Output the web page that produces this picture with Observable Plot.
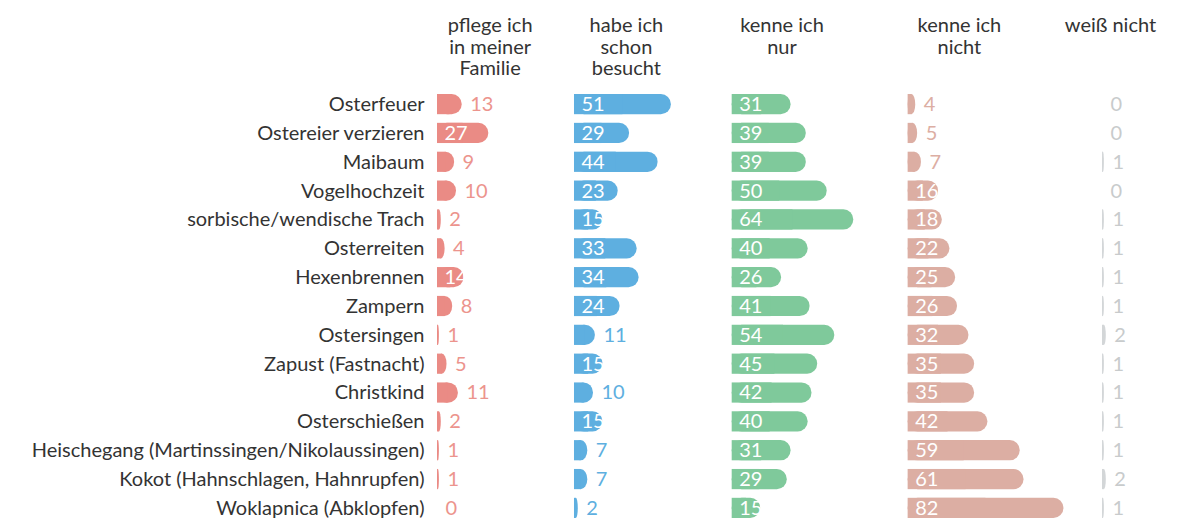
<!DOCTYPE html>
<html><head><meta charset="utf-8">
<script src="https://cdn.jsdelivr.net/npm/d3@7"></script>
<script src="https://cdn.jsdelivr.net/npm/@observablehq/plot@0.6"></script>
<style>
html,body{margin:0;padding:0;background:#fff;}
#chart{font-family:Lato,sans-serif;}
</style>
</head><body><div id="chart"></div>
<script>
// ---- data ----
const categories = [
  "Osterfeuer",
  "Ostereier verzieren",
  "Maibaum",
  "Vogelhochzeit",
  "sorbische/wendische Trach",
  "Osterreiten",
  "Hexenbrennen",
  "Zampern",
  "Ostersingen",
  "Zapust (Fastnacht)",
  "Christkind",
  "Osterschießen",
  "Heischegang (Martinssingen/Nikolaussingen)",
  "Kokot (Hahnschlagen, Hahnrupfen)",
  "Woklapnica (Abklopfen)"
];
const pflegeFamilie = [13, 27, 9, 10, 2, 4, 14, 8, 1, 5, 11, 2, 1, 1, 0];
const schonBesucht  = [51, 29, 44, 23, 15, 33, 34, 24, 11, 15, 10, 15, 7, 7, 2];
const kenneNur      = [31, 39, 39, 50, 64, 40, 26, 41, 54, 45, 42, 40, 31, 29, 15];
const kenneNicht    = [4, 5, 7, 16, 18, 22, 25, 26, 32, 35, 35, 42, 59, 61, 82];
const weissNicht    = [0, 0, 1, 0, 1, 1, 1, 1, 2, 1, 1, 1, 1, 2, 1];
const headers = [
  "pflege ich\nin meiner\nFamilie",
  "habe ich\nschon\nbesucht",
  "kenne ich\nnur",
  "kenne ich\nnicht",
  "weiß nicht"
];

// ---- layout & style ----
const W = 1189, H = 520;
const ML = 437, MR = 0, MT = 94, MB = 2;
const PX_PER_UNIT = 1.9;
const FS = 20;
const colStart = [0, 72.1, 155.1, 247.7, 350];      // column offsets in value units
const headerShift = [27.7, 27.3, 26.2, 27, 4.2];     // header centre relative to column start
const barColors  = ["#ea8b85", "#5eafe0", "#7fc99b", "#dcaea3", "#d3d6d8"];
const textColors = ["#ec948d", "#5eafe0", "#7fc99b", "#dcaea3", "#c8cbcc"];
const INSIDE_MIN = 14;

const series = [pflegeFamilie, schonBesucht, kenneNur, kenneNicht, weissNicht];
const rows = [];
series.forEach((vals, c) => vals.forEach((v, i) => rows.push({
  cat: categories[i], col: c, v, x1: colStart[c], x2: colStart[c] + v, xh: colStart[c] + v / 2
})));
const headerRows = headers.map((h, i) => ({h, x: colStart[i] + headerShift[i]}));

const chart = Plot.plot({
  width: W, height: H,
  marginLeft: ML, marginRight: MR, marginTop: MT, marginBottom: MB,
  style: {fontFamily: "Lato, sans-serif", fontSize: FS + "px", color: "#333", background: "#fff", overflow: "visible"},
  x: {domain: [0, (W - ML - MR) / PX_PER_UNIT], axis: null},
  y: {domain: categories, paddingInner: 0.3, paddingOuter: 0, round: false, label: null},
  marks: [
    Plot.axisY({tickSize: 0, tickPadding: 13, fontSize: FS, label: null, fill: "#333"}),
    Plot.barX(rows, {y: "cat", x1: "x1", x2: "x2", fill: d => barColors[d.col], rx: 10}),
    Plot.barX(rows, {y: "cat", x1: "x1", x2: "xh", fill: d => barColors[d.col]}),
    Plot.text(rows.filter(d => d.v >= INSIDE_MIN), {
      y: "cat", x: "x1", text: d => String(d.v), textAnchor: "start", dx: 7,
      fill: "white", fontSize: FS
    }),
    Plot.text(rows.filter(d => d.v < INSIDE_MIN), {
      y: "cat", x: "x2", text: d => String(d.v), textAnchor: "start", dx: 8,
      fill: d => textColors[d.col], fontSize: FS
    }),
    Plot.text(headerRows, {
      x: "x", text: "h", frameAnchor: "top", lineAnchor: "top", dy: -78,
      textAnchor: "middle", fontSize: FS, lineHeight: 1.085, fill: "#333"
    })
  ]
});
document.getElementById("chart").appendChild(chart);
</script>
</body></html>
